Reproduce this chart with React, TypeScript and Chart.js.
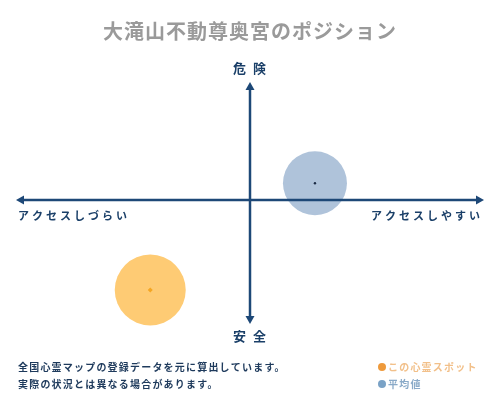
import React, { useEffect, useRef } from 'react';
import { Chart, registerables, Plugin } from 'chart.js';

Chart.register(...registerables);

// データ
const title = '大滝山不動尊奥宮のポジション';
const seriesNames = ['この心霊スポット', '平均値'];
const xValues = [-43, 28];     // アクセスしづらい(-) ↔ アクセスしやすい(+)
const yValues = [-75, 14];     // 安全(-) ↔ 危険(+)
const bubbleSizes = [35.5, 32];
const axisLabels = { top: '危険', bottom: '安全', left: 'アクセスしづらい', right: 'アクセスしやすい' };
const notes = ['全国心霊マップの登録データを元に算出しています。', '実際の状況とは異なる場合があります。'];

const JP = '"Noto Sans CJK JP", sans-serif';
const NAVY = '#1d4877';

const App: React.FC = () => {
    const canvasRef = useRef<HTMLCanvasElement | null>(null);

    useEffect(() => {
        if (!canvasRef.current) return;
        const ctx = canvasRef.current.getContext('2d');
        if (!ctx) return;

        // 軸・矢印・文字を描くプラグイン
        const decorPlugin: Plugin = {
            id: 'decor',
            afterDatasetsDraw(chart) {
                const c = chart.ctx;
                const area = chart.chartArea;
                const xs = chart.scales.x;
                const ys = chart.scales.y;
                const cx = xs.getPixelForValue(0);
                const cy = ys.getPixelForValue(0);
                c.save();
                c.strokeStyle = NAVY;
                c.fillStyle = NAVY;
                c.lineWidth = 2.5;

                // 横軸
                const l = area.left, r = area.right;
                c.beginPath();
                c.moveTo(l + 4, cy);
                c.lineTo(r - 4, cy);
                c.stroke();
                c.beginPath();
                c.moveTo(l - 2, cy); c.lineTo(l + 6, cy - 4.5); c.lineTo(l + 6, cy + 4.5); c.closePath(); c.fill();
                c.beginPath();
                c.moveTo(r + 2, cy); c.lineTo(r - 6, cy - 4.5); c.lineTo(r - 6, cy + 4.5); c.closePath(); c.fill();

                // 縦軸
                const t = area.top + 3, b = area.bottom + 3;
                c.beginPath();
                c.moveTo(cx, t + 4);
                c.lineTo(cx, b - 4);
                c.stroke();
                c.beginPath();
                c.moveTo(cx, t - 1); c.lineTo(cx - 4.5, t + 7); c.lineTo(cx + 4.5, t + 7); c.closePath(); c.fill();
                c.beginPath();
                c.moveTo(cx, b + 1); c.lineTo(cx - 4.5, b - 7); c.lineTo(cx + 4.5, b - 7); c.closePath(); c.fill();

                // タイトル
                c.textBaseline = 'middle';
                c.textAlign = 'left';
                c.fillStyle = '#9a9a9a';
                c.font = `bold 20px ${JP}`;
                (c as any).letterSpacing = '1px';
                const tw = c.measureText(title).width;
                c.fillText(title, 250 - tw / 2, 31);

                // 軸ラベル
                c.fillStyle = '#1a3f68';
                c.font = `bold 13px ${JP}`;
                (c as any).letterSpacing = '7px';
                c.fillText(axisLabels.top, cx - 17, 68);
                c.fillText(axisLabels.bottom, cx - 17, 336);
                c.font = `bold 11px ${JP}`;
                (c as any).letterSpacing = '3px';
                c.fillText(axisLabels.left, 18, 216);
                c.fillText(axisLabels.right, 371, 216);

                // 注記
                c.fillStyle = '#1e3a5c';
                c.font = `bold 10px ${JP}`;
                (c as any).letterSpacing = '1.2px';
                c.fillText(notes[0], 18, 367);
                c.fillText(notes[1], 18, 384);

                // 凡例
                const legendDots = ['#ee9a3c', '#7aa2c6'];
                const legendText = ['#f2c08a', '#8aaac8'];
                seriesNames.forEach((name, i) => {
                    const y = 367 + i * 17;
                    c.fillStyle = legendDots[i];
                    c.beginPath();
                    c.arc(382, y, 4, 0, Math.PI * 2);
                    c.fill();
                    c.fillStyle = legendText[i];
                    c.fillText(name, 388, y);
                });
                c.restore();
            }
        };

        const chartInstance = new Chart(ctx, {
            type: 'bubble',
            data: {
                datasets: [
                    {
                        label: seriesNames[0],
                        data: [{ x: xValues[0], y: yValues[0], r: 2.5 }],
                        backgroundColor: '#f5a623',
                        borderWidth: 0,
                        pointStyle: 'rectRot',
                        clip: false,
                        order: 0
                    },
                    {
                        label: seriesNames[1],
                        data: [{ x: xValues[1], y: yValues[1], r: 1.2 }],
                        backgroundColor: '#1a2b44',
                        borderWidth: 0,
                        clip: false,
                        order: 0
                    },
                    {
                        label: seriesNames[0],
                        data: [{ x: xValues[0], y: yValues[0], r: bubbleSizes[0] }],
                        backgroundColor: '#fecb74',
                        borderWidth: 0,
                        clip: false,
                        order: 1
                    },
                    {
                        label: seriesNames[1],
                        data: [{ x: xValues[1], y: yValues[1], r: bubbleSizes[1] }],
                        backgroundColor: '#afc3da',
                        borderWidth: 0,
                        clip: false,
                        order: 1
                    }
                ]
            },
            options: {
                responsive: false,
                animation: false,
                layout: { autoPadding: false, padding: { left: 18, right: 18, top: 80, bottom: 80 } },
                scales: {
                    x: { type: 'linear', min: -100, max: 100, display: false },
                    y: { type: 'linear', min: -100, max: 100, display: false }
                },
                plugins: {
                    legend: { display: false },
                    tooltip: { enabled: false },
                    title: { display: false }
                }
            },
            plugins: [decorPlugin]
        });

        return () => {
            chartInstance.destroy();
        };
    }, []);

    return (
        <div style={{ position: 'fixed', left: 0, top: 0, width: 500, height: 400, background: '#fff' }}>
            <canvas ref={canvasRef} width="500" height="400"></canvas>
        </div>
    );
};

export default App;
